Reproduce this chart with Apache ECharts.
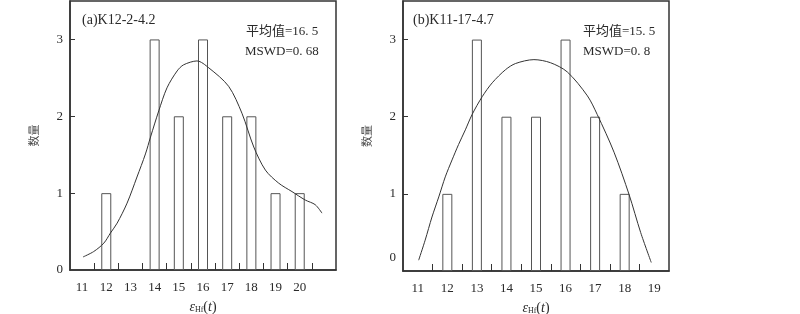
<!DOCTYPE html>
<html>
<head>
<meta charset="utf-8">
<script src="https://cdn.jsdelivr.net/npm/echarts@6/dist/echarts.min.js"></script>
<style>
  html, body { margin: 0; padding: 0; background: #fff; }
  #main { width: 800px; height: 314px; }
</style>
</head>
<body>
<div id="main"></div>
<script>
// (a) K12-2-4.2
const binsA = [12, 14, 15, 16, 17, 18, 19, 20];
const countsA = [1, 3, 2, 3, 2, 2, 1, 1];
const curveAx = [11.04, 11.48, 11.9, 12.17, 12.45, 12.86, 13.27, 13.62, 13.83, 14.17, 14.51, 14.93, 15.2, 15.75, 16.24, 17.06, 17.61, 18.1, 18.58, 19.13, 19.68, 20.23, 20.64, 20.92];
const curveAy = [0.17, 0.24, 0.35, 0.48, 0.61, 0.87, 1.21, 1.51, 1.73, 2.07, 2.37, 2.59, 2.67, 2.72, 2.63, 2.39, 2.04, 1.6, 1.3, 1.13, 1.02, 0.91, 0.85, 0.74];
const labelsA = [11, 12, 13, 14, 15, 16, 17, 18, 19, 20];
const ticksA = [11.5, 12.5, 13.5, 14.5, 15.5, 16.5, 17.5, 18.5, 19.5, 20.5];

// (b) K11-17-4.7
const binsB = [12, 13, 14, 15, 16, 17, 18];
const countsB = [1, 3, 2, 2, 3, 2, 1];
const curveBx = [11.03, 11.25, 11.48, 11.71, 11.93, 12.16, 12.38, 12.61, 12.84, 13.18, 13.52, 13.97, 14.31, 14.93, 15.49, 16.06, 16.74, 17.07, 17.64, 18.15, 18.54, 18.9];
const curveBy = [0.14, 0.4, 0.7, 0.96, 1.22, 1.44, 1.64, 1.83, 2.03, 2.26, 2.44, 2.61, 2.69, 2.74, 2.7, 2.58, 2.27, 2.03, 1.54, 0.99, 0.5, 0.11];
const labelsB = [11, 12, 13, 14, 15, 16, 17, 18, 19];
const ticksB = [11.5, 12.5, 13.5, 14.5, 15.5, 16.5, 17.5, 18.5];

const yLabels = [0, 1, 2, 3];
const yTicks = [1, 2, 3];

const serif = '"Liberation Serif", "Noto Sans CJK SC", serif';
const ink = '#2a2a2a';

function pairs(xs, ys) {
  return xs.map((x, i) => [x, ys[i]]);
}

function xAxisOf(idx, min, max, labels, ticks) {
  return {
    type: 'value',
    gridIndex: idx,
    min: min,
    max: max,
    name: '{e|ε}{s|Hf}{n|(}{i|t}{n|)}',
    nameLocation: 'middle',
    nameGap: 30,
    nameTextStyle: {
      rich: {
        e: { fontFamily: serif, fontStyle: 'italic', fontSize: 14, color: ink },
        s: { fontFamily: serif, fontSize: 8, color: ink, verticalAlign: 'bottom', padding: [6, 0, 0, 0] },
        n: { fontFamily: serif, fontSize: 14, color: ink },
        i: { fontFamily: serif, fontStyle: 'italic', fontSize: 14, color: ink }
      }
    },
    axisLine: { show: true, lineStyle: { color: '#333', width: 1.5 } },
    axisTick: {
      show: true, inside: true, length: 7,
      customValues: ticks,
      lineStyle: { color: '#333', width: 1 }
    },
    axisLabel: {
      customValues: labels,
      margin: 11,
      fontFamily: serif, fontSize: 13, color: ink
    },
    splitLine: { show: false }
  };
}

function yAxisOf(idx, shiftZero) {
  return {
    type: 'value',
    gridIndex: idx,
    min: 0,
    max: 3.5,
    name: '数量',
    nameLocation: 'middle',
    nameGap: 31,
    nameTextStyle: { fontFamily: '"Noto Sans CJK SC", sans-serif', fontSize: 11, color: '#444' },
    axisLine: { show: true, lineStyle: { color: '#333', width: 1.5 } },
    axisTick: {
      show: true, inside: true, length: 5,
      customValues: yTicks,
      lineStyle: { color: '#333', width: 1 }
    },
    axisLabel: {
      customValues: yLabels,
      margin: 7,
      fontFamily: serif, fontSize: 13, color: ink,
      formatter: function (v) {
        return (shiftZero && v === 0) ? '{z|0}' : String(v);
      },
      rich: { z: { fontFamily: serif, fontSize: 13, color: ink, padding: [0, 0, 27, 0] } }
    },
    splitLine: { show: false }
  };
}

function barSeries(idx, bins, counts) {
  return {
    type: 'bar',
    xAxisIndex: idx,
    yAxisIndex: idx,
    barWidth: 10,
    data: pairs(bins, counts),
    itemStyle: { color: '#fff', borderColor: '#555', borderWidth: 1 },
    silent: true
  };
}

function curveSeries(idx, xs, ys) {
  return {
    type: 'line',
    xAxisIndex: idx,
    yAxisIndex: idx,
    smooth: 0.3,
    showSymbol: false,
    data: pairs(xs, ys),
    lineStyle: { color: '#333', width: 1 },
    silent: true,
    z: 5
  };
}

const textStyle = { fontFamily: serif, fontSize: 13, fontWeight: 'normal', color: ink };
const labelStyle = Object.assign({}, textStyle, { fontSize: 14 });

const chart = echarts.init(document.getElementById('main'));
chart.setOption({
  animation: false,
  title: [
    { text: '(a)K12-2-4.2', left: 82, top: 13, padding: 0, textStyle: labelStyle },
    { text: '平均值=16. 5', left: 246, top: 25, padding: 0, textStyle: textStyle },
    { text: 'MSWD=0. 68', left: 245, top: 45, padding: 0, textStyle: textStyle },
    { text: '(b)K11-17-4.7', left: 413, top: 13, padding: 0, textStyle: labelStyle },
    { text: '平均值=15. 5', left: 583, top: 25, padding: 0, textStyle: textStyle },
    { text: 'MSWD=0. 8', left: 583, top: 45, padding: 0, textStyle: textStyle }
  ],
  grid: [
    { left: 70, top: 1, width: 266, bottom: 44, outerBoundsMode: 'none', show: true, borderColor: '#333', borderWidth: 1.5, backgroundColor: 'transparent' },
    { left: 403, top: 1, width: 266, bottom: 43, outerBoundsMode: 'none', show: true, borderColor: '#333', borderWidth: 1.5, backgroundColor: 'transparent' }
  ],
  xAxis: [
    xAxisOf(0, 10.5, 21.5, labelsA, ticksA),
    xAxisOf(1, 10.5, 19.5, labelsB, ticksB)
  ],
  yAxis: [
    yAxisOf(0, false),
    yAxisOf(1, true)
  ],
  series: [
    barSeries(0, binsA, countsA),
    curveSeries(0, curveAx, curveAy),
    barSeries(1, binsB, countsB),
    curveSeries(1, curveBx, curveBy)
  ]
});
</script>
</body>
</html>
